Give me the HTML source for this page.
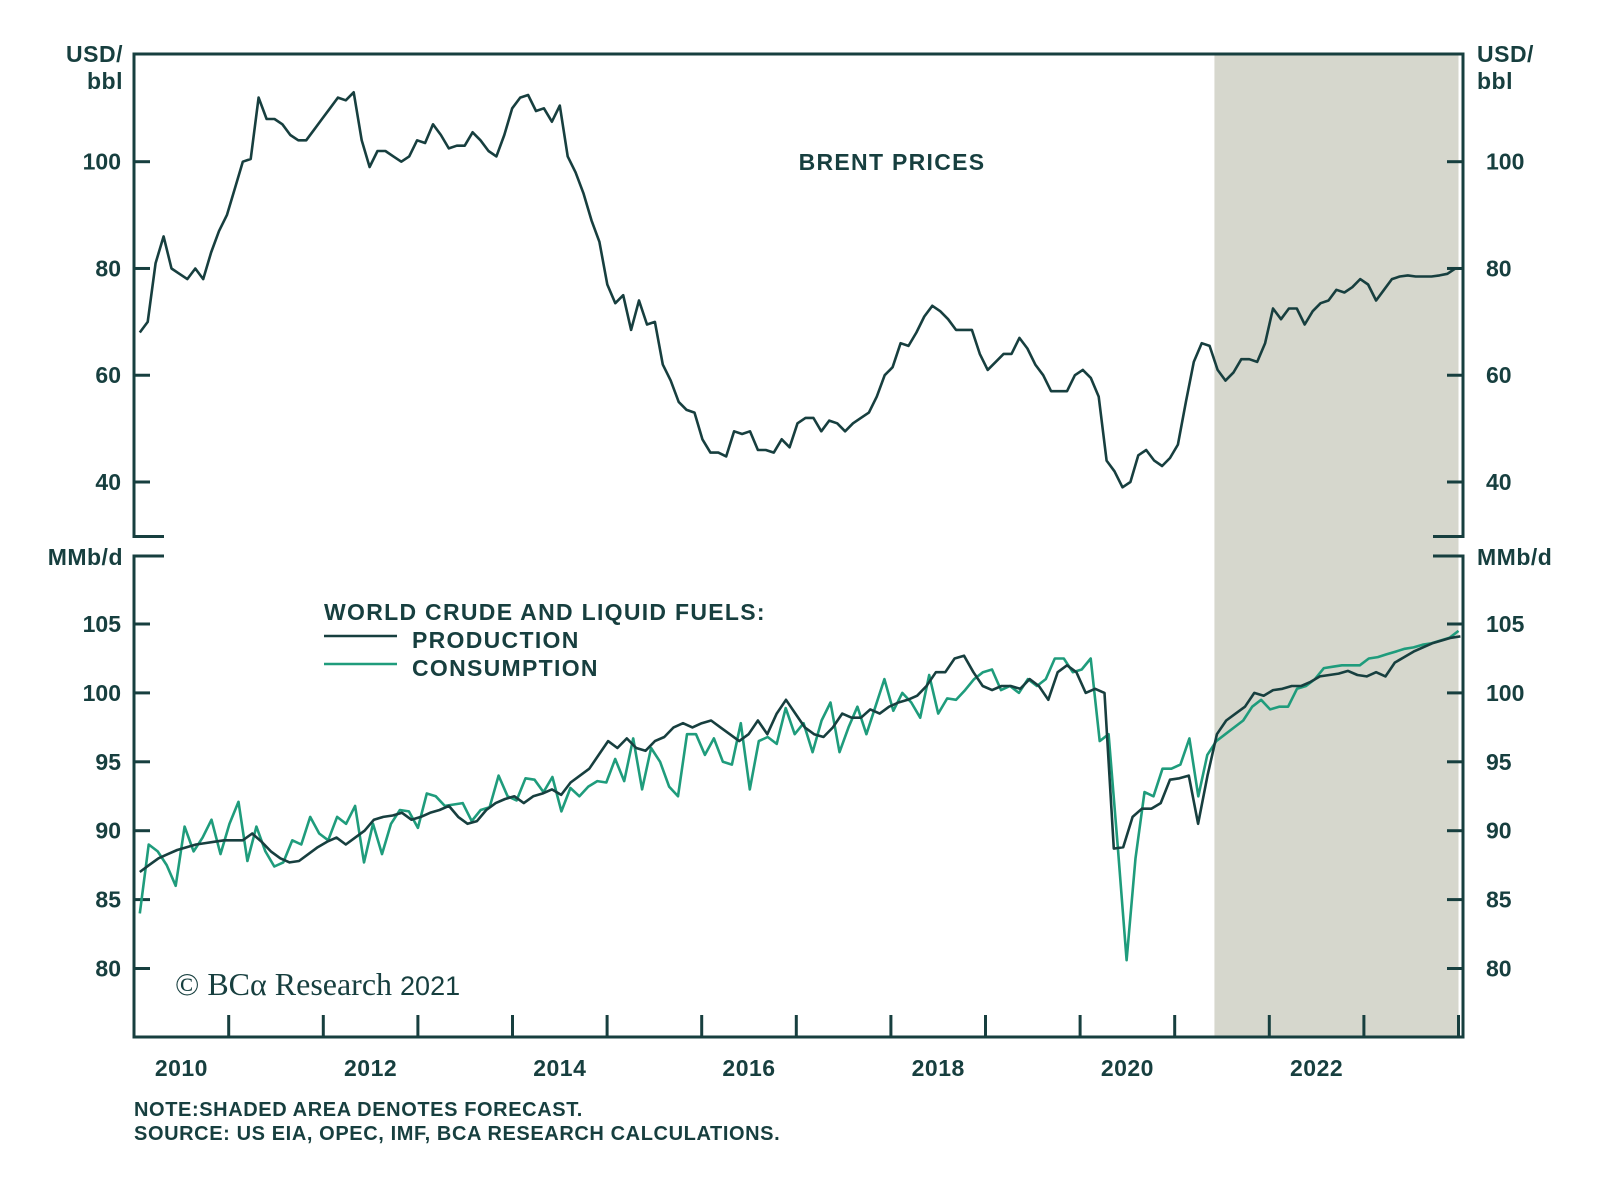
<!DOCTYPE html>
<html><head><meta charset="utf-8"><style>
html,body{margin:0;padding:0;background:#fff;}
svg{display:block;font-family:"Liberation Sans",sans-serif;}
.t{font-weight:bold;fill:#173f3f;font-size:23px;}
</style></head><body>
<svg id="chart" width="1600" height="1182" viewBox="0 0 1600 1182">
<g id="bg"></g><g id="axes"></g><g id="series"></g><g id="labels"></g>
</svg>
<script>
// ===== data =====
const brentStart = 2010.06, brentEnd = 2024.05;
const brentValues = [68,70,81,86,80,79,78,80,78,83,87,90,95,100,100.5,112,108,108,107,105,104,104,106,108,110,112,111.5,113,104,99,102,102,101,100,101,104,103.5,107,105,102.5,103,103,105.5,104,102,101,105,110,112,112.5,109.5,110,107.5,110.5,101,98,94,89,85,77,73.5,75,68.5,74,69.5,70,62,59,55,53.5,53,48,45.5,45.5,44.8,49.5,49,49.5,46,46,45.5,48,46.5,51,52,52,49.5,51.5,51,49.5,51,52,53,56,60,61.5,66,65.5,68,71,73,72,70.5,68.5,68.5,68.5,64,61,62.5,64,64,67,65,62,60,57,57,57,60,61,59.5,56,44,42,39,40,45,46,44,43,44.5,47,55,62.5,66,65.5,61,59,60.5,63,63,62.5,66,72.5,70.5,72.5,72.5,69.5,72,73.5,74,76,75.5,76.5,78,77,74,76,78,78.5,78.7,78.5,78.5,78.5,78.7,79,80,80];
const prodStart = 2010.06, prodEnd = 2024.02;
const prodValues = [87,87.5,88,88.3,88.6,88.8,89,89.1,89.2,89.3,89.3,89.3,89.8,89.2,88.5,88,87.7,87.8,88.3,88.8,89.2,89.5,89,89.5,90,90.8,91,91.1,91.3,90.8,91,91.3,91.5,91.8,91,90.5,90.7,91.5,92,92.3,92.5,92,92.5,92.7,93,92.6,93.5,94,94.5,95.5,96.5,96,96.7,96,95.8,96.5,96.8,97.5,97.8,97.5,97.8,98,97.5,97,96.5,97,98,97,98.5,99.5,98.5,97.5,97,96.8,97.5,98.5,98.2,98.2,98.8,98.5,99,99.3,99.5,99.8,100.5,101.5,101.5,102.5,102.7,101.5,100.5,100.2,100.5,100.5,100.3,101,100.5,99.5,101.5,102,101.5,100,100.3,100,88.7,88.8,91,91.6,91.6,92,93.7,93.8,94,90.5,94,97,98,98.5,99,100,99.8,100.2,100.3,100.5,100.5,100.8,101.2,101.3,101.4,101.6,101.3,101.2,101.5,101.2,102.2,102.6,103,103.3,103.6,103.8,104,104.1];
const consStart = 2010.06, consEnd = 2024.0;
const consValues = [84,89,88.5,87.5,86,90.3,88.5,89.5,90.8,88.3,90.5,92.1,87.8,90.3,88.5,87.4,87.7,89.3,89,91,89.8,89.3,91,90.5,91.8,87.7,90.5,88.3,90.5,91.5,91.4,90.2,92.7,92.5,91.8,91.9,92,90.7,91.5,91.7,94,92.5,92.2,93.8,93.7,92.8,93.9,91.4,93.1,92.5,93.2,93.6,93.5,95.2,93.6,96.7,93,96,95,93.2,92.5,97,97,95.5,96.7,95,94.8,97.8,93,96.5,96.8,96.3,98.9,97,97.8,95.7,98,99.3,95.7,97.5,99,97,99,101,98.7,100,99.3,98.2,101.3,98.5,99.6,99.5,100.2,101,101.5,101.7,100.2,100.5,100,101,100.5,101,102.5,102.5,101.5,101.7,102.5,96.5,97,89,80.6,88,92.8,92.5,94.5,94.5,94.8,96.7,92.5,95.5,96.5,97,97.5,98,99,99.5,98.8,99,99,100.3,100.5,101,101.8,101.9,102,102,102,102.5,102.6,102.8,103,103.2,103.3,103.5,103.6,103.8,104,104.5];
const brentTicks = [40,60,80,100];
const balanceTicks = [80,85,90,95,100,105];
const yearLabels = [2010,2012,2014,2016,2018,2020,2022];
const yearTicks = [2011,2012,2013,2014,2015,2016,2017,2018,2019,2020,2021,2022,2023,2024];
const forecastStart = 2021.42, forecastEnd = 2024.0;

// ===== scales =====
const L = 134, R = 1463;
const xOf = y => 134.1 + (y - 2010) * 94.6;
const yTop = v => 161.7 + (100 - v) * (482 - 161.7) / 60;
const yBot = v => 624 + (105 - v) * (968.5 - 624) / 25;
const DARK = '#173f3f', GREEN = '#1f9c7c';
const NS = 'http://www.w3.org/2000/svg';
function mk(tag, attrs, parent){const e=document.createElementNS(NS,tag);for(const k in attrs)e.setAttribute(k,attrs[k]);parent.appendChild(e);return e;}
const bg=document.getElementById('bg'),ax=document.getElementById('axes'),se=document.getElementById('series'),lb=document.getElementById('labels');

let sh = mk('rect',{x:xOf(forecastStart),y:54,width:xOf(forecastEnd)-xOf(forecastStart),height:1037-54,fill:'#d6d7cd'},bg);



const st={stroke:DARK,'stroke-width':3,fill:'none'};
let p1=mk('path',Object.assign({d:`M${L+30},536.5 H${L} V54 H${R} V536.5 H${R-30}`},st),ax);


let p2=mk('path',Object.assign({d:`M${L+30},556 H${L} V1037 H${R} V556 H${R-30}`},st),ax);



function label(x,y,txt,anchor,name,extra){const t=mk('text',Object.assign({x:x,y:y,'text-anchor':anchor,class:'t'},extra||{}),lb);t.textContent=txt;


return t;}

brentTicks.forEach(v=>{const y=yTop(v);
 mk('line',{x1:L,x2:L+16,y1:y,y2:y,stroke:DARK,'stroke-width':3},ax);
 mk('line',{x1:R-16,x2:R,y1:y,y2:y,stroke:DARK,'stroke-width':3},ax);
 label(121,y+8,String(v),'end','brent-left-tick-label');
 label(1486,y+8,String(v),'start','brent-right-tick-label');
});
balanceTicks.forEach(v=>{const y=yBot(v);
 mk('line',{x1:L,x2:L+16,y1:y,y2:y,stroke:DARK,'stroke-width':3},ax);
 mk('line',{x1:R-16,x2:R,y1:y,y2:y,stroke:DARK,'stroke-width':3},ax);
 label(121,y+8,String(v),'end','balance-left-tick-label');
 label(1486,y+8,String(v),'start','balance-right-tick-label');
});
yearTicks.forEach(yr=>{const x=xOf(yr);mk('line',{x1:x,x2:x,y1:1037,y2:1015,stroke:DARK,'stroke-width':3},ax);});
yearLabels.forEach(yr=>{label(xOf(yr+0.5),1076,String(yr),'middle','x-axis-year-label',{'font-size':'23px','letter-spacing':'0.5px'});});

function series(vals,s,e,yf,color,name){
 const n=vals.length;let d='';
 vals.forEach((v,i)=>{const x=xOf(s+(e-s)*i/(n-1));d+=(i?'L':'M')+x.toFixed(1)+','+yf(v).toFixed(1);});
 const p=mk('path',{d:d,fill:'none',stroke:color,'stroke-width':2.6,'stroke-linejoin':'round'},se);
 
 
}
series(brentValues,brentStart,brentEnd,yTop,DARK,'brent-price-line');
series(consValues,consStart,consEnd,yBot,GREEN,'consumption-line');
series(prodValues,prodStart,prodEnd,yBot,DARK,'production-line');
</script>
<div style="position:absolute;left:0;top:0;width:1600px;height:1182px;pointer-events:none">
<svg width="1600" height="1182" style="font-family:'Liberation Sans',sans-serif">
 <g font-weight="bold" fill="#173f3f" font-size="23" letter-spacing="0.5">
  <text x="123" y="62" text-anchor="end">USD/</text>
  <text x="123" y="89" text-anchor="end">bbl</text>
  <text x="1477" y="62">USD/</text>
  <text x="1477" y="89">bbl</text>
  <text x="123" y="565" text-anchor="end">MMb/d</text>
  <text x="1477" y="565">MMb/d</text>
  <text x="892" y="170" text-anchor="middle" letter-spacing="1.3">BRENT PRICES</text>
  <text x="324" y="620" letter-spacing="1.3">WORLD CRUDE AND LIQUID FUELS:</text>
  <text x="412" y="648" letter-spacing="1.3">PRODUCTION</text>
  <text x="412" y="676" letter-spacing="1.3">CONSUMPTION</text>
  <text x="134" y="1116" font-size="20" letter-spacing="0.6">NOTE:SHADED AREA DENOTES FORECAST.</text>
  <text x="134" y="1140" font-size="20" letter-spacing="0.6">SOURCE: US EIA, OPEC, IMF, BCA RESEARCH CALCULATIONS.</text>
 </g>
 <line x1="324" x2="397" y1="636" y2="636" stroke="#173f3f" stroke-width="2.6"/>
 <line x1="324" x2="397" y1="664" y2="664" stroke="#1f9c7c" stroke-width="2.6"/>
 <text x="175" y="995" font-family="'Liberation Serif',serif" font-size="32" fill="#173f3f">© BCα Research <tspan font-family="'Liberation Sans',sans-serif" font-size="27">2021</tspan></text>
</svg>
</div>
</body></html>
